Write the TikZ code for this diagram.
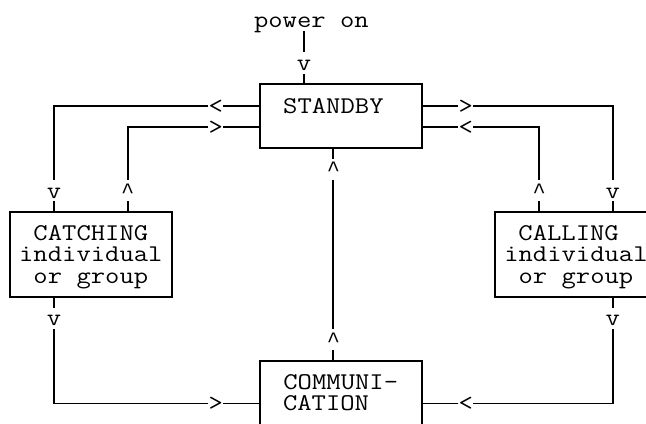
\documentclass[tikz,border=0pt]{standalone}
\usepackage{graphicx}
\usepackage{fontspec}
\newfontfamily\chevronfont{Liberation Mono}
% typewriter text, widened a little so one character fills one grid cell
\newcommand\wide[1]{\scalebox{1.16}[1]{#1}}
% a pointed caret for the up-arrow heads
\newcommand\caret{{\chevronfont\fontsize{11}{11}\selectfont\textasciicircum}}
\tikzset{
  % one character cell of the grid: 7.35pt wide, 10.64pt high
  cell/.style={inner sep=0pt, outer sep=0pt, minimum width=7.35pt,
    minimum height=10.64pt, text height=8pt, text depth=0.6pt,
    font=\ttfamily\fontsize{12}{12}\selectfont},
  tip/.style={cell},
  label/.style={cell},
  box/.style={draw, line width=0.95pt, inner sep=0pt, outer sep=0pt,
    minimum width=80.85pt},
  wire/.style={line width=0.95pt},
}
\begin{document}
\begin{tikzpicture}[x=7.35pt, y=-10.64pt]
  % x counts columns, y counts rows (downwards)
  \useasboundingbox (-0.6803,-0.9633) rectangle (43.2653,18.9145);
  \clip (-0.6803,-0.9633) rectangle (43.2653,18.9145);

  % boxes
  \node[box, minimum height=31.92pt] (standby) at (22.5,4.5) {};
  \node[box, minimum height=42.56pt] (catching) at (5.5,11) {};
  \node[box, minimum height=42.56pt] (calling) at (38.5,11) {};
  \node[box, minimum height=31.92pt] (comm) at (22.5,17.5) {};

  % texts
  \node[label] (pwr) at (20.5,0) {\wide{power on}};
  \node[label] (standbytxt) at (22,4) {\wide{STANDBY}};
  \node[label] (catchA) at (5.5,10) {\wide{CATCHING}};
  \node[label] (catchB) at (5.5,11) {\wide{individual}};
  \node[label] (catchC) at (5.5,12) {\wide{or group}};
  \node[label] (callA) at (38,10) {\wide{CALLING}};
  \node[label] (callB) at (38.5,11) {\wide{individual}};
  \node[label] (callC) at (38.5,12) {\wide{or group}};
  \node[label] (commA) at (22.5,17) {\wide{COMMUNI-}};
  \node[label] (commB) at (21.5,18) {\wide{CATION}};

  % arrow heads, typed as characters
  \node[tip] (pv) at (20,2) {\wide{v}};
  \node[tip] (lA) at (14,4) {\wide{<}};
  \node[tip] (lB) at (14,5) {\wide{>}};
  \node[tip] (lv) at (3,8) {\wide{v}};
  \node[tip] (lu) at (8,8) {\caret};
  \node[tip] (rA) at (31,4) {\wide{>}};
  \node[tip] (rB) at (31,5) {\wide{<}};
  \node[tip] (rv) at (41,8) {\wide{v}};
  \node[tip] (ru) at (36,8) {\caret};
  \node[tip] (mu1) at (22,7) {\caret};
  \node[tip] (mu2) at (22,15) {\caret};
  \node[tip] (blv) at (3,14) {\wide{v}};
  \node[tip] (bl) at (14,18) {\wide{>}};
  \node[tip] (brv) at (41,14) {\wide{v}};
  \node[tip] (br) at (31,18) {\wide{<}};

  % power on -> STANDBY
  \draw[wire] (pwr.south -| pv) -- (pv.north);
  \draw[wire] (pv.south) -- (pv |- standby.north);

  % STANDBY <-> CATCHING
  \draw[wire] (lA.west) -| (lv.north);
  \draw[wire] (lA.east) -- (lA -| standby.west);
  \draw[wire] (lv.south) -- (lv |- catching.north);
  \draw[wire] (lB.west) -| (lu.north);
  \draw[wire] (lB.east) -- (lB -| standby.west);
  \draw[wire] (lu.south) -- (lu |- catching.north);

  % STANDBY <-> CALLING
  \draw[wire] (rA.east) -| (rv.north);
  \draw[wire] (rA.west) -- (rA -| standby.east);
  \draw[wire] (rv.south) -- (rv |- calling.north);
  \draw[wire] (rB.east) -| (ru.north);
  \draw[wire] (rB.west) -- (rB -| standby.east);
  \draw[wire] (ru.south) -- (ru |- calling.north);

  % COMMUNICATION -> STANDBY
  \draw[wire] (standby.south -| mu1) -- (mu1.north);
  \draw[wire] (mu1.south) -- (mu2.north);
  \draw[wire] (mu2.south) -- (mu2 |- comm.north);

  % CATCHING -> COMMUNICATION
  \draw[wire] (catching.south -| blv) -- (blv.north);
  \draw[wire] (blv.south) |- (bl.west);
  \draw[wire] (bl.east) -- (bl -| comm.west);

  % CALLING -> COMMUNICATION
  \draw[wire] (calling.south -| brv) -- (brv.north);
  \draw[wire] (brv.south) |- (br.east);
  \draw[wire] (br.west) -- (br -| comm.east);
\end{tikzpicture}
\end{document}
